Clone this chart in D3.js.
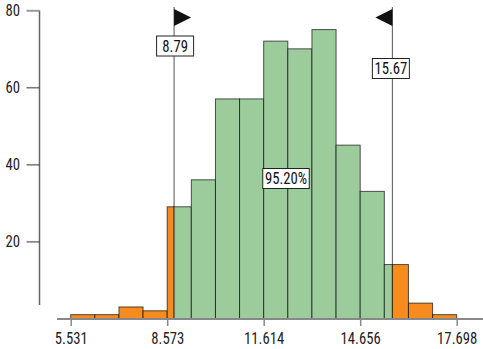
<!DOCTYPE html>
<html><head><meta charset="utf-8">
<script src="https://cdn.jsdelivr.net/npm/d3@7"></script>
<style>
body{margin:0;background:#fff;}
svg text{font-family:"Liberation Sans Narrow","Roboto Condensed","Liberation Sans",Arial,sans-serif;}
</style></head>
<body><svg id="c" width="483" height="349"></svg>
<script>
const binEdges = [5.531, 6.291, 7.052, 7.812, 8.573, 9.333, 10.094, 10.854, 11.614, 12.375, 13.135, 13.896, 14.656, 15.417, 16.177, 16.938, 17.698];
const counts = [1, 1, 3, 2, 29, 36, 57, 57, 72, 70, 75, 45, 33, 14, 4, 1];
const xTicks = [5.531, 8.573, 11.614, 14.656, 17.698];
const xTickLabels = ["5.531", "8.573", "11.614", "14.656", "17.698"];
const yTicks = [20, 40, 60, 80];
const lowerCut = 8.79, upperCut = 15.67;
const lowerLabel = "8.79", upperLabel = "15.67", centerLabel = "95.20%";

const FS = 16, SX = 0.92;
const svg = d3.select("#c");
const x = d3.scaleLinear().domain([5.531, 17.698]).range([70.7, 456.7]);
const y = d3.scaleLinear().domain([0, 80]).range([318.5, 10.3]);
const orange = "#F68B1F", green = "#9CCB9C";

// bar segments
const segs = [];
counts.forEach((c, i) => {
  const a = binEdges[i], b = binEdges[i+1];
  const cuts = [a];
  [lowerCut, upperCut].forEach(t => { if (t > a && t < b) cuts.push(t); });
  cuts.push(b);
  for (let k = 0; k < cuts.length - 1; k++) {
    const m = (cuts[k] + cuts[k+1]) / 2;
    segs.push({x0: cuts[k], x1: cuts[k+1], c, inside: m > lowerCut && m < upperCut});
  }
});

// flag lines (behind bars)
[lowerCut, upperCut].forEach(v => {
  svg.append("line").attr("x1", x(v)).attr("x2", x(v)).attr("y1", 7).attr("y2", y(0))
    .attr("stroke", "#555").attr("stroke-width", 1);
});

svg.append("g").selectAll("rect").data(segs).join("rect")
  .attr("x", d => x(d.x0)).attr("width", d => x(d.x1) - x(d.x0))
  .attr("y", d => y(d.c)).attr("height", d => y(0) - y(d.c))
  .attr("fill", d => d.inside ? green : orange)
  .attr("stroke", "rgba(0,0,0,0.65)").attr("stroke-width", 1);

// x axis
svg.append("line").attr("x1", 57).attr("x2", 483).attr("y1", 319).attr("y2", 319)
  .attr("stroke", "#888").attr("stroke-width", 2);
const xa = svg.append("g").attr("transform", "translate(0,319)")
  .call(d3.axisBottom(x).tickValues(xTicks).tickFormat((d, i) => xTickLabels[i]).tickSize(7).tickSizeOuter(0));
xa.select(".domain").remove();
xa.selectAll("line").attr("stroke", "#888").attr("stroke-width", 1.5);
xa.selectAll("text").attr("font-size", FS).attr("fill", "#222").attr("y", 14).attr("dy", "0.71em")
  .attr("transform", `scale(${SX},1)`);

// y axis
svg.append("line").attr("x1", 39.5).attr("x2", 39.5).attr("y1", y(80)).attr("y2", 305)
  .attr("stroke", "#666").attr("stroke-width", 1.5);
const ya = svg.append("g").attr("transform", "translate(39.5,0)")
  .call(d3.axisLeft(y).tickValues(yTicks).tickSize(13).tickSizeOuter(0));
ya.select(".domain").remove();
ya.selectAll("line").attr("stroke", d => d === 80 ? "#999" : "#333").attr("stroke-width", d => d === 80 ? 2 : 1);
ya.selectAll("text").attr("font-size", FS).attr("fill", "#222").attr("x", -19.5 / SX).attr("dy", "0.34em")
  .attr("transform", `scale(${SX},1)`);

// flags
function flag(v, dir) {
  const px = x(v);
  const pts = [[px, 9], [px + dir * 17, 17.5], [px, 26]];
  svg.append("path").attr("d", d3.line()(pts) + "Z").attr("fill", "#111");
}
flag(lowerCut, 1);
flag(upperCut, -1);

function box(cx, cy, txt) {
  const g = svg.append("g").attr("transform", `translate(${cx},${cy})`);
  const t = g.append("text").attr("x", 0).attr("y", 0).attr("text-anchor", "middle")
    .attr("dy", "0.36em").attr("font-size", FS).attr("fill", "#111")
    .attr("transform", `scale(${SX},1)`).text(txt);
  const w = Math.max(37, t.node().getBBox().width * SX + 4);
  g.insert("rect", "text").attr("x", -w / 2).attr("y", -10).attr("width", w).attr("height", 20)
    .attr("fill", "#fff").attr("stroke", "#222").attr("stroke-width", 1);
}
box(x(lowerCut) + 1, 46, lowerLabel);
box(x(upperCut) - 1.5, 68.5, upperLabel);
box(286, 178.5, centerLabel);
</script></body></html>
